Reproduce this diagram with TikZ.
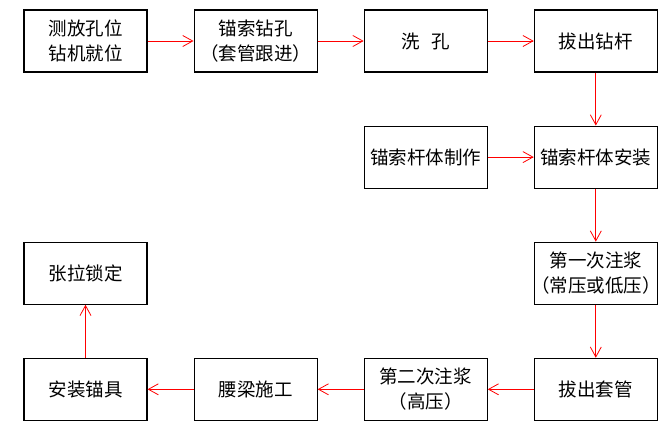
\documentclass[tikz,border=0pt]{standalone}
\usepackage{fontspec}
\setmainfont{Noto Sans CJK SC}[RawFeature=+halt]
\usepackage{tikz}
\usetikzlibrary{arrows.meta,
                positioning}
\tikzstyle{stepbox} = [rectangle, minimum width=123pt, minimum height=62pt, inner sep=0pt, text centered, align=center, draw=black, line width=1.1pt, font=\fontsize{18.5pt}{25pt}\selectfont]
\tikzstyle{arrow} = [red, line width=0.8pt, ->, >={Straight Barb[length=10pt,width=11pt]}]

\begin{document}
\begin{tikzpicture}[node distance=53pt and 46pt]
        \useasboundingbox (0,0) rectangle (664pt,-440pt);
        \node (cekong) [stepbox] at (85.5pt,-41pt) {测放孔位\\钻机就位};
        \node (zuankong) [stepbox, right=of cekong] {锚索钻孔\\（套管跟进）};
        \node (xikong) [stepbox, right=of zuankong] {洗\hspace{0.6em}孔};
        \node (bagan) [stepbox, right=of xikong] {拔出钻杆};
        \node (anzhuang) [stepbox, below=of bagan] {锚索杆体安装};
        \node (zhizuo) [stepbox, left=of anzhuang] {锚索杆体制作};
        \node (zhujiangA) [stepbox, below=of anzhuang] {第一次注浆\\（常压或低压）};
        \node (baguan) [stepbox, below=of zhujiangA] {拔出套管};
        \node (zhujiangB) [stepbox, left=of baguan] {第二次注浆\\（高压）};
        \node (yaoliang) [stepbox, left=of zhujiangB] {腰梁施工};
        \node (maoju) [stepbox, left=of yaoliang] {安装锚具};
        \node (zhangla) [stepbox, above=of maoju] {张拉锁定};
        \draw [arrow] (cekong) -- (zuankong);
        \draw [arrow] (zuankong) -- (xikong);
        \draw [arrow] (xikong) -- (bagan);
        \draw [arrow] (bagan) -- (anzhuang);
        \draw [arrow] (zhizuo) -- (anzhuang);
        \draw [arrow] (anzhuang) -- (zhujiangA);
        \draw [arrow] (zhujiangA) -- (baguan);
        \draw [arrow] (baguan) -- (zhujiangB);
        \draw [arrow] (zhujiangB) -- (yaoliang);
        \draw [arrow] (yaoliang) -- (maoju);
        \draw [arrow] (maoju) -- (zhangla);
        %
\end{tikzpicture}
\end{document}
